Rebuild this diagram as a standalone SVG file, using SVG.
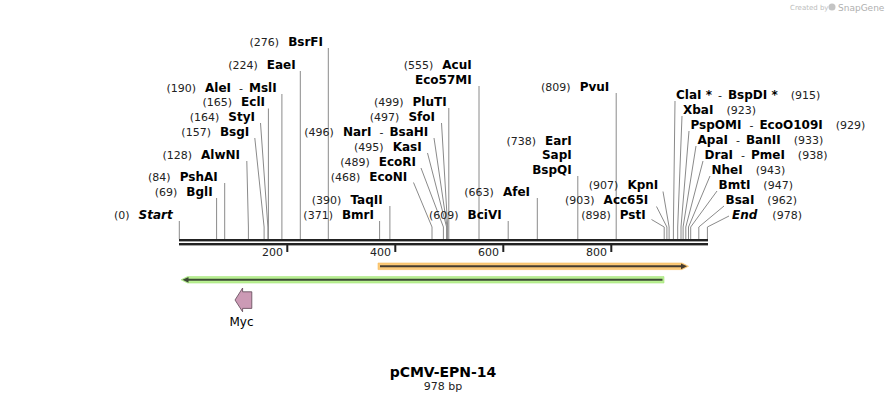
<svg xmlns="http://www.w3.org/2000/svg" width="887" height="402" viewBox="0 0 887 402">
<style>
text{font-family:"DejaVu Sans",Verdana,sans-serif;fill:#000}
.nm{font-size:12px;font-weight:bold}
.it{font-style:italic}
.num{font-size:11px;font-weight:normal;fill:#222}
.tk{font-size:11px;fill:#222}
.cl{stroke:#8a8a8a;stroke-width:1;fill:none}
.bar{fill:#222}
</style>
<rect width="887" height="402" fill="#fff"/>
<g id="watermark">
<text x="790" y="10" style="font-size:7px;fill:#bdbdbd">Created by</text>
<circle cx="832" cy="7" r="3.5" fill="#c4c4c4"/>
<text x="838" y="11" style="font-size:9px;fill:#b0b0b0">SnapGene</text>
</g>
<g id="connectors" class="cl">
<path d="M328.3 48V239M300.3 71V239M281.9 94V239M268.4 108.5V239M260.5 123L267.9 227V239M254.8 138L264.1 227V239M246.8 161L248.4 227V239M224.7 183V239M216.6 198V239M179.3 221V239"/>
<path d="M379.6 221V239M389.9 206V239M413.5 182.5L432 227V239M421 168L443.4 227V239M427.5 153L446.6 227V239M434 138L447.1 227V239M441.5 123L447.7 227V239M448.8 108V239M479 86V239M508.2 221V239M537.3 198V239M577.8 176V239M616.2 93V239M663 191.5L669.1 227V239M656.5 206.5L666.9 227V239M651.5 219.5L664.2 227V239"/>
<path d="M675 101L673.4 227V239M682 116L677.7 227V239M689 131L681 227V239M696 146L683.1 227V239M703 161L685.8 227V239M710 176L688.5 227V239M717 191L690.7 227V239M724 206L698.8 227V239M729 216L707.4 227V239"/>
</g>
<g id="ruler">
<rect class="bar" x="179" y="239" width="529" height="2.4"/>
<rect class="bar" x="179" y="243" width="529" height="2.4"/>
<rect class="bar" x="286.3" y="245" width="2" height="7"/>
<rect class="bar" x="394.3" y="245" width="2" height="7"/>
<rect class="bar" x="502.3" y="245" width="2" height="7"/>
<rect class="bar" x="610.3" y="245" width="2" height="7"/>
<text class="tk" x="283" y="256" text-anchor="end">200</text>
<text class="tk" x="391" y="256" text-anchor="end">400</text>
<text class="tk" x="499" y="256" text-anchor="end">600</text>
<text class="tk" x="607" y="256" text-anchor="end">800</text>
</g>
<g id="site-BsrFI"><text x="323" y="45.5" text-anchor="end"><tspan class="num">(276)</tspan><tspan class="nm" dx="9">BsrFI</tspan></text></g>
<g id="site-EaeI"><text x="295.7" y="68.5" text-anchor="end"><tspan class="num">(224)</tspan><tspan class="nm" dx="9">EaeI</tspan></text></g>
<g id="site-AleI"><text x="276.7" y="91.5" text-anchor="end"><tspan class="num">(190)</tspan><tspan class="nm" dx="9">AleI</tspan><tspan class="num" dx="8">-</tspan><tspan class="nm" dx="6">MslI</tspan></text></g>
<g id="site-EclI"><text x="265" y="105.5" text-anchor="end"><tspan class="num">(165)</tspan><tspan class="nm" dx="9">EclI</tspan></text></g>
<g id="site-StyI"><text x="255" y="120.5" text-anchor="end"><tspan class="num">(164)</tspan><tspan class="nm" dx="9">StyI</tspan></text></g>
<g id="site-BsgI"><text x="249.3" y="135.5" text-anchor="end"><tspan class="num">(157)</tspan><tspan class="nm" dx="9">BsgI</tspan></text></g>
<g id="site-AlwNI"><text x="240" y="158.5" text-anchor="end"><tspan class="num">(128)</tspan><tspan class="nm" dx="9">AlwNI</tspan></text></g>
<g id="site-PshAI"><text x="217.7" y="180.5" text-anchor="end"><tspan class="num">(84)</tspan><tspan class="nm" dx="9">PshAI</tspan></text></g>
<g id="site-BglI"><text x="212.7" y="196" text-anchor="end"><tspan class="num">(69)</tspan><tspan class="nm" dx="9">BglI</tspan></text></g>
<g id="site-Start"><text x="172.7" y="218.5" text-anchor="end"><tspan class="num">(0)</tspan><tspan class="nm it" dx="9">Start</tspan></text></g>
<g id="site-AcuI"><text x="471.7" y="68.5" text-anchor="end"><tspan class="num">(555)</tspan><tspan class="nm" dx="9">AcuI</tspan></text><text class="nm" x="471.7" y="83.5" text-anchor="end">Eco57MI</text></g>
<g id="site-PluTI"><text x="446.7" y="105.5" text-anchor="end"><tspan class="num">(499)</tspan><tspan class="nm" dx="9">PluTI</tspan></text></g>
<g id="site-SfoI"><text x="435" y="120.5" text-anchor="end"><tspan class="num">(497)</tspan><tspan class="nm" dx="9">SfoI</tspan></text></g>
<g id="site-NarI"><text x="428.3" y="135.5" text-anchor="end"><tspan class="num">(496)</tspan><tspan class="nm" dx="9">NarI</tspan><tspan class="num" dx="8">-</tspan><tspan class="nm" dx="6">BsaHI</tspan></text></g>
<g id="site-KasI"><text x="421.7" y="150.5" text-anchor="end"><tspan class="num">(495)</tspan><tspan class="nm" dx="9">KasI</tspan></text></g>
<g id="site-EcoRI"><text x="416" y="165.5" text-anchor="end"><tspan class="num">(489)</tspan><tspan class="nm" dx="9">EcoRI</tspan></text></g>
<g id="site-EcoNI"><text x="407.3" y="180.5" text-anchor="end"><tspan class="num">(468)</tspan><tspan class="nm" dx="9">EcoNI</tspan></text></g>
<g id="site-TaqII"><text x="382.7" y="203.5" text-anchor="end"><tspan class="num">(390)</tspan><tspan class="nm" dx="9">TaqII</tspan></text></g>
<g id="site-BmrI"><text x="374" y="218.5" text-anchor="end"><tspan class="num">(371)</tspan><tspan class="nm" dx="9">BmrI</tspan></text></g>
<g id="site-BciVI"><text x="501.7" y="218.5" text-anchor="end"><tspan class="num">(609)</tspan><tspan class="nm" dx="9">BciVI</tspan></text></g>
<g id="site-AfeI"><text x="530" y="195.5" text-anchor="end"><tspan class="num">(663)</tspan><tspan class="nm" dx="9">AfeI</tspan></text></g>
<g id="site-EarI"><text x="571.7" y="144.5" text-anchor="end"><tspan class="num">(738)</tspan><tspan class="nm" dx="9">EarI</tspan></text><text class="nm" x="571.7" y="159" text-anchor="end">SapI</text><text class="nm" x="571.7" y="173.5" text-anchor="end">BspQI</text></g>
<g id="site-PvuI"><text x="609.3" y="90.5" text-anchor="end"><tspan class="num">(809)</tspan><tspan class="nm" dx="9">PvuI</tspan></text></g>
<g id="site-KpnI"><text x="658.3" y="188.5" text-anchor="end"><tspan class="num">(907)</tspan><tspan class="nm" dx="9">KpnI</tspan></text></g>
<g id="site-Acc65I"><text x="648.3" y="203.5" text-anchor="end"><tspan class="num">(903)</tspan><tspan class="nm" dx="9">Acc65I</tspan></text></g>
<g id="site-PstI"><text x="645.7" y="218.5" text-anchor="end"><tspan class="num">(898)</tspan><tspan class="nm" dx="9">PstI</tspan></text></g>
<g id="site-ClaI"><text x="676" y="98.5"><tspan class="nm">ClaI *</tspan><tspan class="num" dx="6">-</tspan><tspan class="nm" dx="6">BspDI *</tspan><tspan class="num" dx="13">(915)</tspan></text></g>
<g id="site-XbaI"><text x="683" y="113.5"><tspan class="nm">XbaI</tspan><tspan class="num" dx="13">(923)</tspan></text></g>
<g id="site-PspOMI"><text x="690.5" y="128.5"><tspan class="nm">PspOMI</tspan><tspan class="num" dx="8">-</tspan><tspan class="nm" dx="6">EcoO109I</tspan><tspan class="num" dx="13">(929)</tspan></text></g>
<g id="site-ApaI"><text x="697.5" y="143.5"><tspan class="nm">ApaI</tspan><tspan class="num" dx="8">-</tspan><tspan class="nm" dx="6">BanII</tspan><tspan class="num" dx="13">(933)</tspan></text></g>
<g id="site-DraI"><text x="704.5" y="158.5"><tspan class="nm">DraI</tspan><tspan class="num" dx="8">-</tspan><tspan class="nm" dx="6">PmeI</tspan><tspan class="num" dx="13">(938)</tspan></text></g>
<g id="site-NheI"><text x="711.5" y="173.5"><tspan class="nm">NheI</tspan><tspan class="num" dx="13">(943)</tspan></text></g>
<g id="site-BmtI"><text x="718.5" y="188.5"><tspan class="nm">BmtI</tspan><tspan class="num" dx="13">(947)</tspan></text></g>
<g id="site-BsaI"><text x="725.5" y="203.5"><tspan class="nm">BsaI</tspan><tspan class="num" dx="13">(962)</tspan></text></g>
<g id="site-End"><text x="732" y="218.5"><tspan class="nm it">End</tspan><tspan class="num" dx="15">(978)</tspan></text></g>
<g id="feature-orange">
<polygon points="378,263 682,263 688.5,266.3 682,269.6 378,269.6" fill="#fbc978" stroke="#f7bc5e" stroke-width="0.6"/>
<line x1="380" y1="266.3" x2="683" y2="266.3" stroke="#463c30" stroke-width="2"/>
<polygon points="687,266.3 681,263.4 681,269.2" fill="#463c30"/>
</g>
<g id="feature-green">
<polygon points="664,276.6 187.5,276.6 181,279.8 187.5,283 664,283" fill="#baf093" stroke="#a5e47a" stroke-width="0.6"/>
<line x1="187" y1="279.8" x2="662.5" y2="279.8" stroke="#3c4a35" stroke-width="2"/>
<polygon points="182.5,279.8 188.5,276.9 188.5,282.7" fill="#3c4a35"/>
</g>
<g id="feature-Myc">
<polygon points="251.8,291.8 242.6,291.8 242.6,288 235,300 242.6,311.8 242.6,308.4 251.8,308.4" fill="#cc9ab5" stroke="#5e4656" stroke-width="0.8"/>
<text x="241.5" y="326" text-anchor="middle" style="font-size:12px">Myc</text>
</g>
<g id="title">
<text x="443" y="377" text-anchor="middle" style="font-size:14px;font-weight:bold">pCMV-EPN-14</text>
<text x="443" y="389.5" text-anchor="middle" style="font-size:11px;fill:#222">978 bp</text>
</g>
</svg>
